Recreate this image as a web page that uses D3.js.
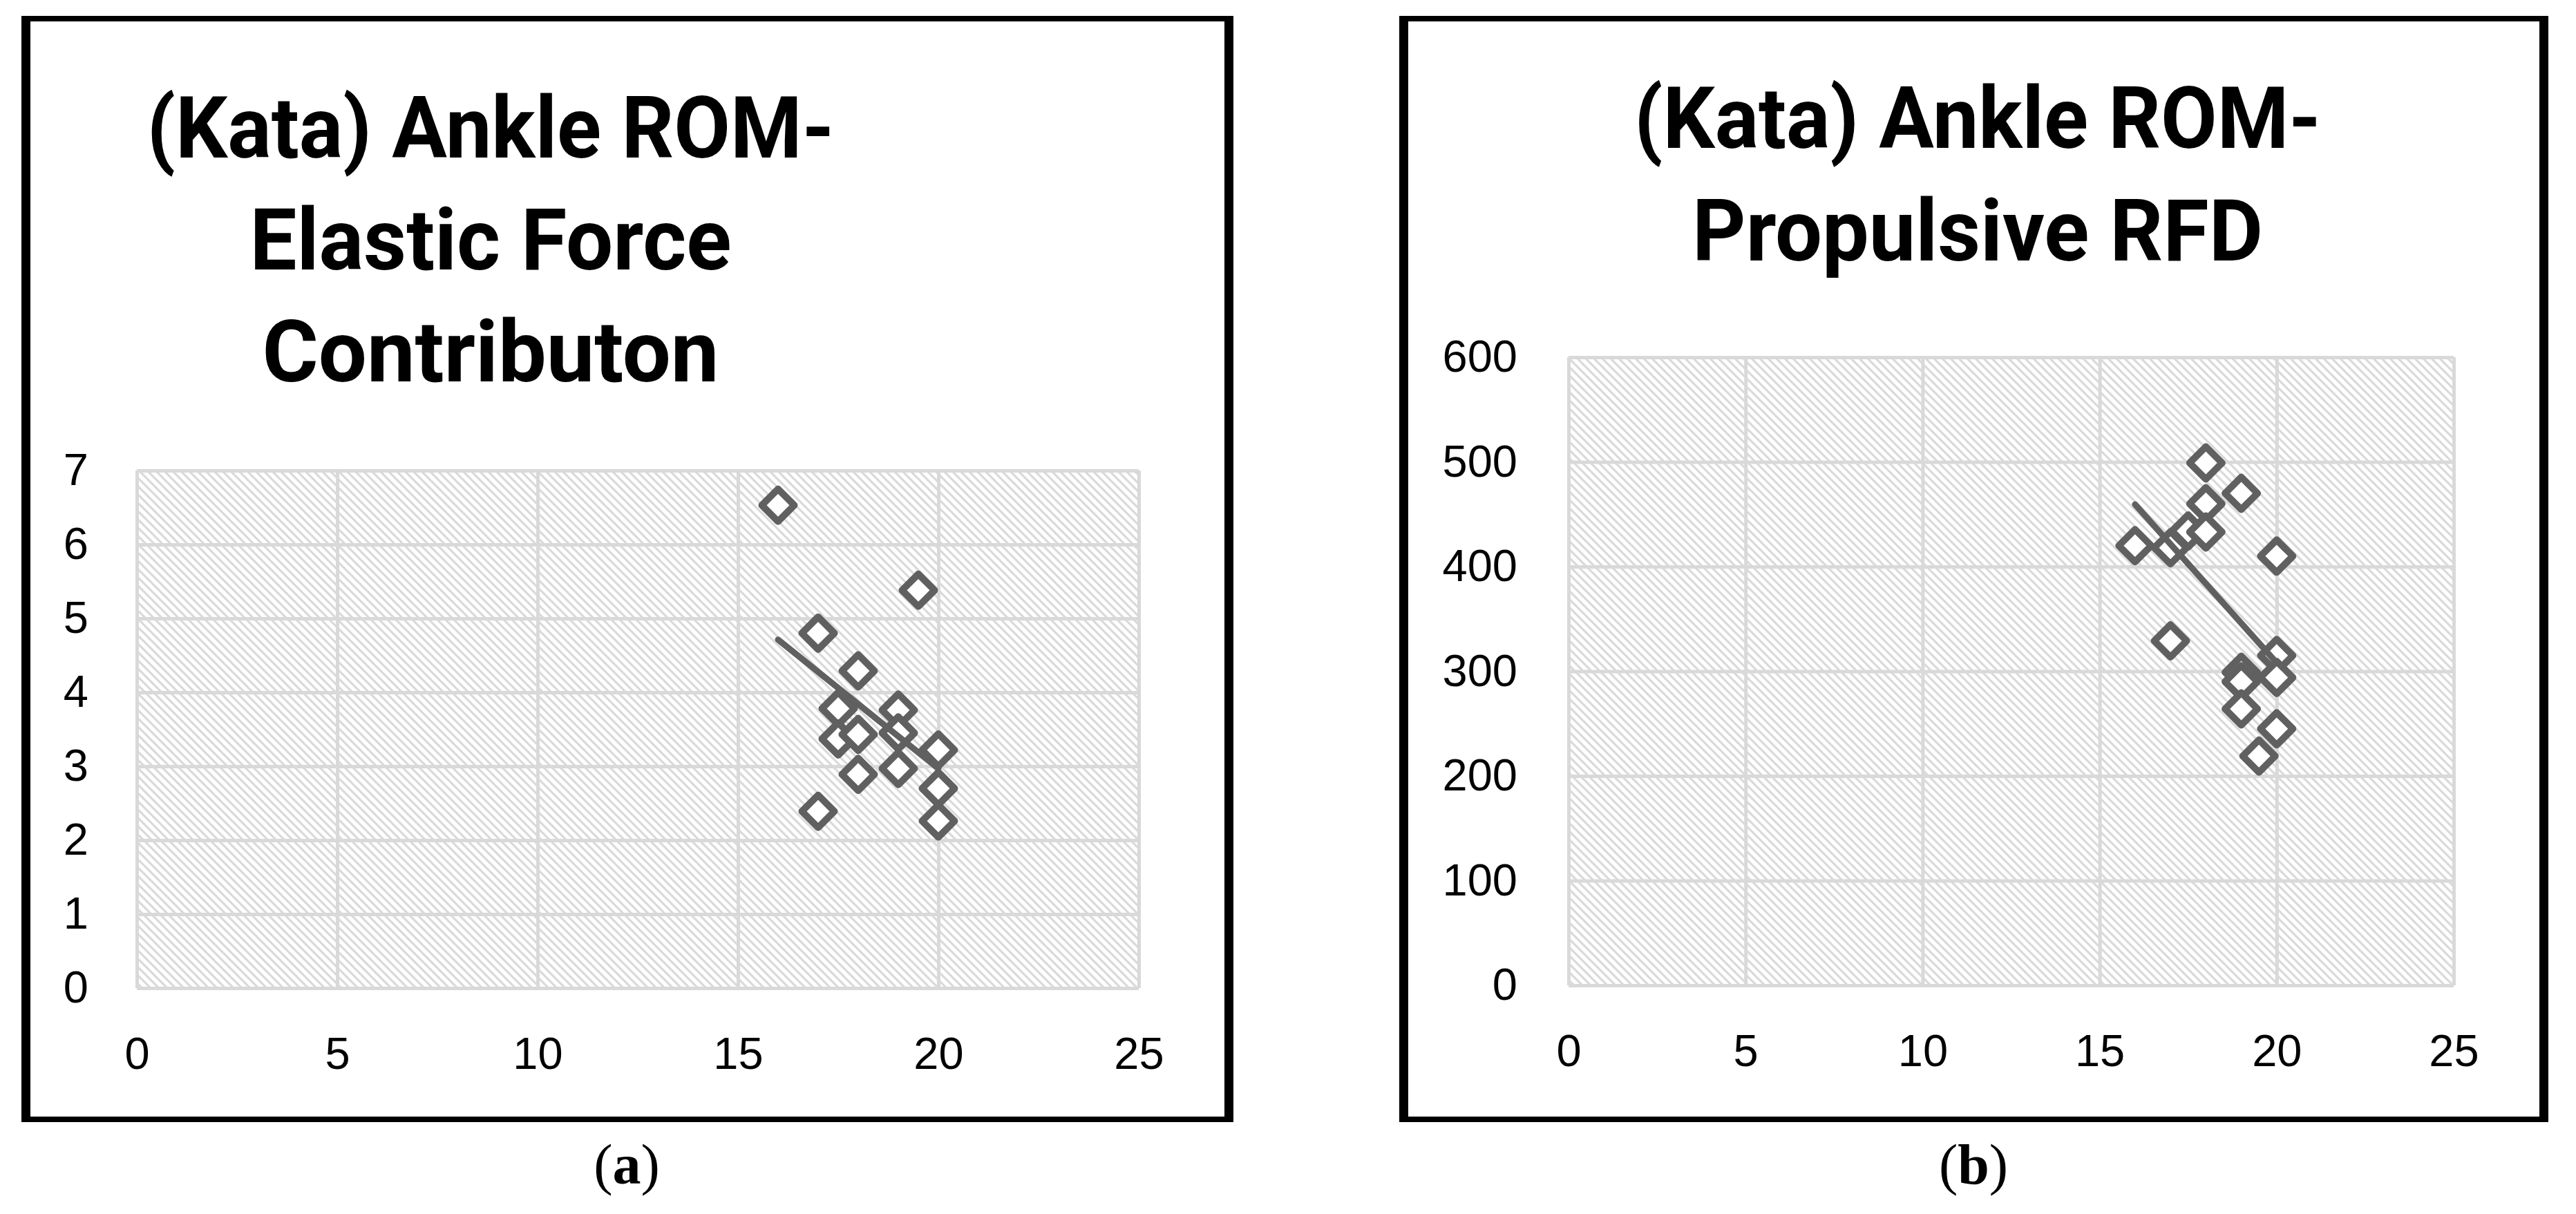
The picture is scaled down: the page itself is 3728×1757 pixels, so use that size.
<!DOCTYPE html>
<html>
<head>
<meta charset="utf-8">
<script src="https://cdn.jsdelivr.net/npm/d3@7"></script>
<style>
  html, body { margin: 0; padding: 0; background: #fff; }
  svg { display: block; }
</style>
</head>
<body>
<script>
// ---------- data ----------
const xTicks = [0, 5, 10, 15, 20, 25];
const leftYTicks = [0, 1, 2, 3, 4, 5, 6, 7];
const rightYTicks = [0, 100, 200, 300, 400, 500, 600];

const leftTitle = ["(Kata) Ankle ROM-", "Elastic Force", "Contributon"];
const rightTitle = ["(Kata) Ankle ROM-", "Propulsive RFD"];

// (a) Ankle ROM vs Elastic Force Contribution
const leftX = [16, 19.5, 17, 18, 17.5, 19, 19, 17.5, 18, 18, 19, 20, 20, 20, 17];
const leftY = [6.53, 5.38, 4.80, 4.29, 3.78, 3.76, 3.45, 3.37, 3.43, 2.89, 2.97, 3.22, 2.70, 2.26, 2.39];

// (b) Ankle ROM vs Propulsive RFD
const rightX = [18, 19, 18, 17.5, 18, 16, 17, 20, 17, 20, 19, 19, 20, 19, 20, 19.5];
const rightY = [499, 470, 460, 434, 433, 420, 418, 410, 329, 315, 299, 290, 294, 264, 245, 219];

const captions = ["a", "b"];

// ---------- drawing ----------
const W = 3728, H = 1757;
const svg = d3.select("body").append("svg").attr("width", W).attr("height", H);
svg.append("rect").attr("width", W).attr("height", H).attr("fill", "#fff");

const defs = svg.append("defs");
const pat = defs.append("pattern").attr("id", "hatch")
  .attr("patternUnits", "userSpaceOnUse").attr("width", 12).attr("height", 12);
pat.append("rect").attr("width", 12).attr("height", 12).attr("fill", "#fff");
pat.append("path").attr("d", "M0,0 L12,12 M-3,9 L3,15 M9,-3 L15,3")
  .attr("stroke", "#dadada").attr("stroke-width", 3.2);

const MARK = "#606060";

function regression(xs, ys) {
  const n = xs.length;
  const mx = d3.mean(xs), my = d3.mean(ys);
  let sxy = 0, sxx = 0;
  for (let i = 0; i < n; i++) { sxy += (xs[i] - mx) * (ys[i] - my); sxx += (xs[i] - mx) ** 2; }
  const b = sxy / sxx;
  return { b, a: my - b * mx };
}

function panel(cfg) {
  const g = svg.append("g");
  // border (vertical sides thicker than horizontal ones, as in the reference)
  const bx0 = cfg.box[0], by0 = cfg.box[1], bx1 = cfg.box[2], by1 = cfg.box[3];
  g.append("rect").attr("x", bx0).attr("y", by0).attr("width", bx1 - bx0).attr("height", 8).attr("fill", "#000");
  g.append("rect").attr("x", bx0).attr("y", by1 - 8).attr("width", bx1 - bx0).attr("height", 8).attr("fill", "#000");
  g.append("rect").attr("x", bx0).attr("y", by0).attr("width", 13).attr("height", by1 - by0).attr("fill", "#000");
  g.append("rect").attr("x", bx1 - 13).attr("y", by0).attr("width", 13).attr("height", by1 - by0).attr("fill", "#000");

  // title
  cfg.title.forEach((t, i) => {
    g.append("text")
      .attr("x", cfg.titleX).attr("y", cfg.titleY[i])
      .attr("text-anchor", "middle")
      .attr("font-family", "Roboto, 'DejaVu Sans', sans-serif")
      .attr("font-weight", 700).attr("font-size", 124)
      .attr("textLength", cfg.titleW[i]).attr("lengthAdjust", "spacingAndGlyphs")
      .attr("fill", "#000")
      .text(t);
  });

  const [pl, pt, pr, pb] = cfg.plot;
  const x = d3.scaleLinear().domain([0, 25]).range([pl, pr]);
  const y = d3.scaleLinear().domain(cfg.yDomain).range([pb, pt]);

  g.append("rect").attr("x", pl).attr("y", pt).attr("width", pr - pl).attr("height", pb - pt)
    .attr("fill", "url(#hatch)");

  const gx = g.append("g").attr("transform", `translate(0,${pb})`)
    .call(d3.axisBottom(x).tickValues(xTicks).tickSize(-(pb - pt)).tickPadding(71).tickFormat(d3.format("d")));
  const gy = g.append("g").attr("transform", `translate(${pl},0)`)
    .call(d3.axisLeft(y).tickValues(cfg.yTicks).tickSize(-(pr - pl)).tickPadding(cfg.yPad).tickFormat(d3.format("d")));
  [gx, gy].forEach(a => {
    a.select(".domain").remove();
    a.selectAll(".tick line").attr("stroke", "#d9d9d9").attr("stroke-width", 5);
    a.selectAll(".tick text")
      .attr("font-family", "'Liberation Sans', Arial, sans-serif")
      .attr("font-size", 65).attr("fill", "#000");
  });

  // markers
  const sym = d3.symbol().type(d3.symbolSquare).size(1104);
  g.append("g").selectAll("path").data(cfg.xs.map((v, i) => [v, cfg.ys[i]]))
    .join("path")
    .attr("d", sym)
    .attr("transform", d => `translate(${x(d[0])},${y(d[1])}) rotate(45)`)
    .attr("fill", "#fff").attr("stroke", MARK).attr("stroke-width", 10)
    .attr("stroke-linejoin", "round");

  // linear trendline
  const r = regression(cfg.xs, cfg.ys);
  const ext = d3.extent(cfg.xs);
  const line = d3.line().x(d => x(d)).y(d => y(r.a + r.b * d));
  g.append("path").attr("d", line(ext))
    .attr("fill", "none").attr("stroke", MARK).attr("stroke-width", 9)
    .attr("stroke-linecap", "round");

  // caption
  const cap = g.append("text").attr("x", cfg.capX).attr("y", 1713)
    .attr("text-anchor", "middle")
    .attr("font-family", "'Liberation Serif', 'Times New Roman', serif")
    .attr("font-size", 82).attr("fill", "#000");
  cap.append("tspan").text("(");
  cap.append("tspan").attr("font-weight", 700).text(cfg.caption);
  cap.append("tspan").text(")");
}

panel({
  box: [31, 23, 1785, 1624],
  title: leftTitle, titleX: 710, titleY: [228, 390, 552], titleW: [995, 697, 661],
  plot: [198, 681, 1648, 1430],
  yDomain: [0, 7], yTicks: leftYTicks, yPad: 70,
  xs: leftX, ys: leftY,
  capX: 907, caption: captions[0]
});

panel({
  box: [2025, 23, 3688, 1624],
  title: rightTitle, titleX: 2862, titleY: [214, 377], titleW: [994, 826],
  plot: [2270, 517, 3551, 1426],
  yDomain: [0, 600], yTicks: rightYTicks, yPad: 74,
  xs: rightX, ys: rightY,
  capX: 2856, caption: captions[1]
});
</script>
</body>
</html>
